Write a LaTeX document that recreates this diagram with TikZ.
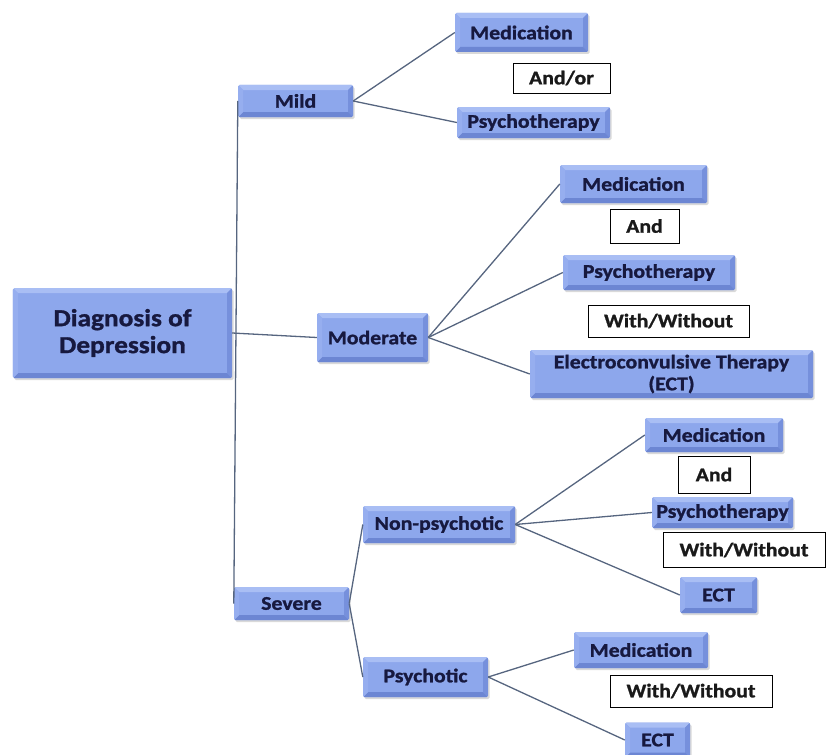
\documentclass[tikz,border=0pt]{standalone}
\usepackage{fontspec}
\setmainfont{Carlito}[FakeStretch=1.12, BoldFeatures={FakeBold=1.2}]
\usetikzlibrary{shadows}

\definecolor{boxface}{HTML}{8DA7EC}
\definecolor{bevtop}{HTML}{A9BEF4}
\definecolor{bevleft}{HTML}{96AEEF}
\definecolor{bevright}{HTML}{7690DC}
\definecolor{bevbot}{HTML}{6C86D3}
\definecolor{boxtext}{HTML}{17193F}
\definecolor{linkgray}{HTML}{56657F}

\tikzset{
  wh/.style 2 args={minimum width=#1bp, minimum height=#2bp},
  bevelbox/.style={rectangle, rounded corners=1.5bp, fill=boxface, text=boxtext,
    font=\bfseries\fontsize{19.5}{22}\selectfont, align=center, inner sep=0pt,
    drop shadow={shadow xshift=1.5bp, shadow yshift=-2bp, opacity=0.3},
    path picture={
      \path (path picture bounding box.north west) coordinate (bnw)
        (path picture bounding box.north east) coordinate (bne)
        (path picture bounding box.south east) coordinate (bse)
        (path picture bounding box.south west) coordinate (bsw)
        ([shift={(5bp,-5bp)}]bnw) coordinate (inw)
        ([shift={(-5bp,-5bp)}]bne) coordinate (ine)
        ([shift={(-5bp,5bp)}]bse) coordinate (ise)
        ([shift={(5bp,5bp)}]bsw) coordinate (isw);
      \fill[bevtop, sharp corners] (bnw) -- (bne) -- (ine) -- (inw) -- cycle;
      \fill[bevright, sharp corners] (bne) -- (bse) -- (ise) -- (ine) -- cycle;
      \fill[bevbot, sharp corners] (bse) -- (bsw) -- (isw) -- (ise) -- cycle;
      \fill[bevleft, sharp corners] (bsw) -- (bnw) -- (inw) -- (isw) -- cycle;
    }},
  joinbox/.style={rectangle, draw=black, line width=0.9bp, fill=white, text=black!90,
    font=\bfseries\fontsize{19.5}{22}\selectfont, inner sep=0pt},
  link/.style={draw=linkgray, line width=1.3bp}
}

\begin{document}
\begin{tikzpicture}[x=1bp,y=-1bp]
\useasboundingbox (0,0) rectangle (827,755);

\node[bevelbox, wh={219}{90}, font=\bfseries\fontsize{24.5}{27}\selectfont] (diag) at (122.5,333) {Diagnosis of\\Depression};

\node[bevelbox, wh={115}{32}] (mild) at (295.5,101) {Mild};
\node[bevelbox, wh={133}{39}] (medmild) at (521.5,32.5) {Medication};
\node[joinbox, wh={97}{30}] (andor) at (561.5,78) {And/or};
\node[bevelbox, wh={153}{31}] (psymild) at (533.5,122.5) {Psychotherapy};

\node[bevelbox, wh={111}{49}] (moderate) at (372.5,337.5) {Moderate};
\node[bevelbox, wh={147}{38}] (medmod) at (633.5,184) {Medication};
\node[joinbox, wh={69}{34}] (andmod) at (644.5,226) {And};
\node[bevelbox, wh={172}{35}] (psymod) at (649,272.5) {Psychotherapy};
\node[joinbox, wh={161}{32}] (withmod) at (668.5,321) {With/Without};
\node[bevelbox, wh={283}{48}] (ectmod) at (671.5,374) {Electroconvulsive Therapy\\(ECT)};

\node[bevelbox, wh={115}{33}] (severe) at (291.5,603.5) {Severe};
\node[bevelbox, wh={152}{37}] (nonpsy) at (439,524.5) {Non-psychotic};
\node[bevelbox, wh={138}{34}] (mednon) at (714,435) {Medication};
\node[joinbox, wh={72}{37}] (andnon) at (714,474.5) {And};
\node[bevelbox, wh={141}{31}] (psynon) at (722.5,512.5) {Psychotherapy};
\node[joinbox, wh={162}{35}] (withnon) at (744,550) {With/Without};
\node[bevelbox, wh={77}{36}] (ectnon) at (718.5,595) {ECT};

\node[bevelbox, wh={125}{40}] (psychotic) at (425.5,677) {Psychotic};
\node[bevelbox, wh={134}{36}] (medpsy) at (641,650) {Medication};
\node[joinbox, wh={162}{32}] (withpsy) at (691,691) {With/Without};
\node[bevelbox, wh={65}{35}] (ectpsy) at (657.5,740) {ECT};

\draw[link] (mild.west) -- (severe.west);
\draw[link] (diag.east) -- (moderate.west);
\draw[link] (mild.east) -- (medmild.west);
\draw[link] (mild.east) -- (psymild.west);
\draw[link] (moderate.east) -- (medmod.west);
\draw[link] (moderate.east) -- (psymod.west);
\draw[link] (moderate.east) -- (ectmod.west);
\draw[link] (severe.east) -- (nonpsy.west);
\draw[link] (severe.east) -- (psychotic.west);
\draw[link] (nonpsy.east) -- (mednon.west);
\draw[link] (nonpsy.east) -- (psynon.west);
\draw[link] (nonpsy.east) -- (ectnon.west);
\draw[link] (psychotic.east) -- (medpsy.west);
\draw[link] (psychotic.east) -- (ectpsy.west);
\end{tikzpicture}
\end{document}
